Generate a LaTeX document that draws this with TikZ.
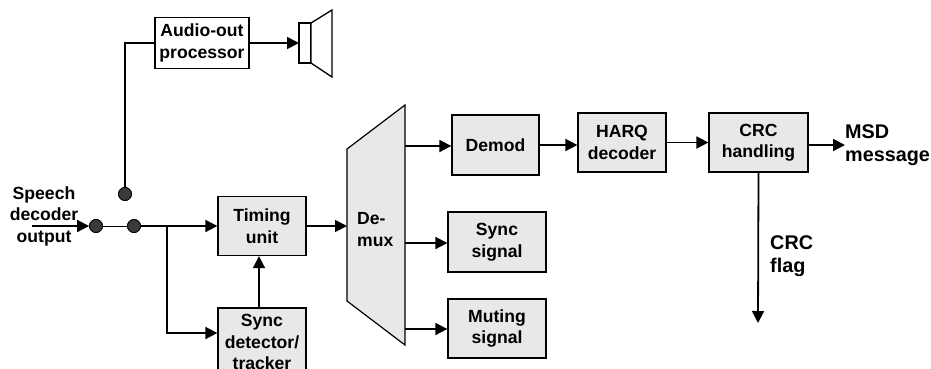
\documentclass[tikz,border=0pt]{standalone}
\usepackage{fontspec}
\setmainfont{Liberation Sans}
\usetikzlibrary{arrows.meta,calc}
\definecolor{boxgray}{HTML}{E8E8E8}
\definecolor{dotgray}{HTML}{3A3A3A}
\newcommand{\myboxfont}{\bfseries\fontsize{17.6}{21.5}\selectfont}
\newcommand{\mylblfont}{\bfseries\fontsize{19.8}{23.5}\selectfont}
\begin{document}
\begin{tikzpicture}[x=1pt,y=-1pt,
  blk/.style={draw=black,line width=1.3pt,fill=boxgray,align=center,inner sep=0pt,font=\myboxfont},
  conn/.style={line width=1.8pt},
  arr/.style={conn,-{Triangle[length=12pt,width=12pt]}},
  lbl/.style={font=\mylblfont,align=left,inner sep=0pt},
  dotc/.style={circle,draw=black,line width=0.8pt,fill=dotgray,minimum size=13pt,inner sep=0pt}]
\useasboundingbox (0,0) rectangle (931,368);
\clip (0,0) rectangle (931,368);

% boxes
\node[blk,fill=white,minimum width=94pt,minimum height=51pt] (audio) at (202,43) {Audio-out\\processor};
\node[blk,minimum width=88pt,minimum height=59pt] (timing) at (262,226) {Timing\\unit};
\node[blk,minimum width=88pt,minimum height=68pt] (sync) at (262,342) {Sync\\detector/\\tracker};
\node[blk,minimum width=87pt,minimum height=60pt] (demod) at (495.5,145) {Demod};
\node[blk,minimum width=88pt,minimum height=59pt] (harq) at (622,142.5) {HARQ\\decoder};
\node[blk,minimum width=99pt,minimum height=59pt] (crc) at (758.5,142.5) {CRC\\handling};
\node[blk,minimum width=98pt,minimum height=60pt] (syncsig) at (497,242) {Sync\\signal};
\node[blk,minimum width=98pt,minimum height=59pt] (mute) at (497,328.5) {Muting\\signal};

% demux
\draw[line width=1.2pt,fill=boxgray] (347,149) -- (405,105) -- (405,345) -- (347,301) -- cycle;
\node[font=\myboxfont,align=left,inner sep=0pt,anchor=west] (dmx) at (357,229.5) {De-\\mux};
\coordinate (dmin) at (347,226);
\coordinate (dmo1) at (405,146);
\coordinate (dmo2) at (405,243);
\coordinate (dmo3) at (405,329);

% labels
\node[font=\myboxfont,align=center,inner sep=0pt] (speech) at (44,216) {Speech\\decoder\\output};
\node[lbl,anchor=west] (msd) at (845,145) {MSD\\message};
\node[lbl,anchor=west] (flag) at (770,256) {CRC\\flag};

% input wiring
\coordinate (in) at (32,226);
\node[dotc] (d1) at (96,226) {};
\node[dotc] (d2) at (134,226) {};
\node[dotc] (d3) at (125,194) {};
\coordinate (br) at (167,226);
\coordinate (br2) at (167,333);
\coordinate (up) at (125,43);
\coordinate (spk) at (299,43);
\coordinate (msdp) at (845,145);
\coordinate (flagend) at (758,323);

\draw[arr] (in) -- (d1.west);
\draw[line width=0.9pt] (d1) -- (d2);
\draw[arr] (d2.east) -- (timing.west);
\draw[arr] (br) -- (br2) -- (br2 -| sync.west);
\draw[conn] (d3.north) -- (up) -- (audio.west);
\draw[arr] ([xshift=-3pt]sync.north) -- ([xshift=-3pt]timing.south);
\draw[arr] (audio.east) -- (spk);

% speaker
\draw[line width=1.3pt,fill=white] (299,23) rectangle (311,63);
\draw[line width=1.3pt,fill=white] (311,23) -- (332,10) -- (332,77) -- (311,63) -- cycle;

% redraw dots on top
\node[dotc] at (d1) {};
\node[dotc] at (d2) {};
\node[dotc] at (d3) {};

% right wiring
\draw[arr] (timing.east) -- (dmin);
\draw[arr] (dmo1) -- (dmo1 -| demod.west);
\draw[arr] (dmo2) -- (dmo2 -| syncsig.west);
\draw[arr] (dmo3) -- (dmo3 -| mute.west);
\draw[arr] (demod.east) -- (demod.east -| harq.west);
\draw[arr] (harq.east) -- (crc.west);
\draw[arr] (crc.east |- msdp) -- (msdp);
\draw[arr] (crc.south) -- (flagend);
\end{tikzpicture}
\end{document}
